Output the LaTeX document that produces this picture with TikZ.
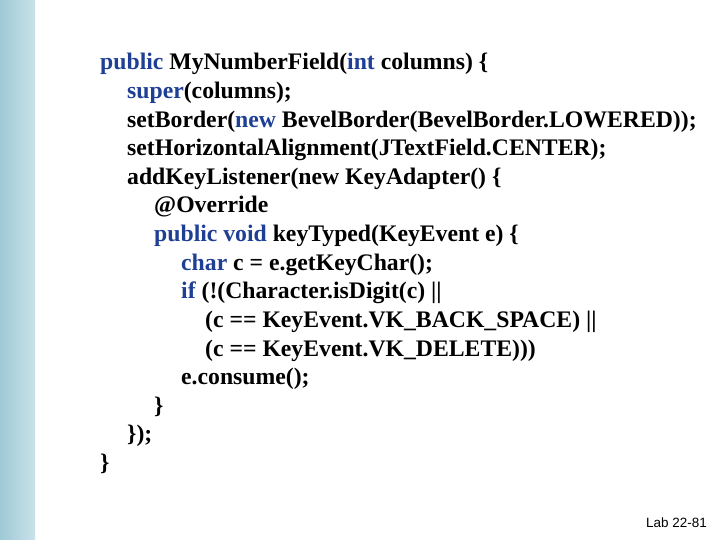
\documentclass[tikz,border=0pt]{standalone}
\usepackage{fontspec}
\setmainfont{Liberation Serif}
\setsansfont{Liberation Sans}
\usepackage{xcolor}
\usetikzlibrary{positioning}
\definecolor{kwblue}{HTML}{1F3F95}
\definecolor{stripA}{HTML}{C9E2EA}
\definecolor{stripB}{HTML}{9FC9D6}
\tikzset{
	codeline/.style={anchor=base west, inner sep=0pt, font=\fontsize{23.8}{24}\selectfont\bfseries},
	footer/.style={anchor=base east, inner sep=0pt, font=\sffamily\fontsize{13.5}{14}\selectfont}
}
\newcommand{\kw}[1]{\textcolor{kwblue}{#1}}

\begin{document}
\begin{tikzpicture}[x=1bp, y=-1bp]
		\useasboundingbox (0,0) rectangle (720,540);
		\shade[left color=stripB, right color=stripA] (0,0) rectangle (35,540);
		
		%code lines
		\node[codeline] at (100,70) (l1) {\kw{public} MyNumberField(\kw{int} columns) \{};
		\node[codeline] at (127,98.6) (l2) {\kw{super}(columns);};
		\node[codeline] at (127,127.2) (l3) {setBorder(\kw{new} BevelBorder(BevelBorder.LOWERED));};
		\node[codeline] at (127,155.8) (l4) {setHorizontalAlignment(JTextField.CENTER);};
		\node[codeline] at (127,184.4) (l5) {addKeyListener(new KeyAdapter() \{};
		\node[codeline] at (154,213) (l6) {@Override};
		\node[codeline] at (154,241.6) (l7) {\kw{public void} keyTyped(KeyEvent e) \{};
		\node[codeline] at (181,270.2) (l8) {\kw{char} c = e.getKeyChar();};
		\node[codeline] at (181,298.8) (l9) {\kw{if} (!(Character.isDigit(c) ||};
		\node[codeline] at (205,327.4) (l10) {(c == KeyEvent.VK\_BACK\_SPACE) ||};
		\node[codeline] at (205,356) (l11) {(c == KeyEvent.VK\_DELETE)))};
		\node[codeline] at (181,384.6) (l12) {e.consume();};
		\node[codeline] at (154,413.2) (l13) {\}};
		\node[codeline] at (127,441.8) (l14) {\});};
		\node[codeline] at (100,470.4) (l15) {\}};
		
		\node[footer] at (707,527) (lab) {Lab 22-81};
	\end{tikzpicture}
\end{document}
